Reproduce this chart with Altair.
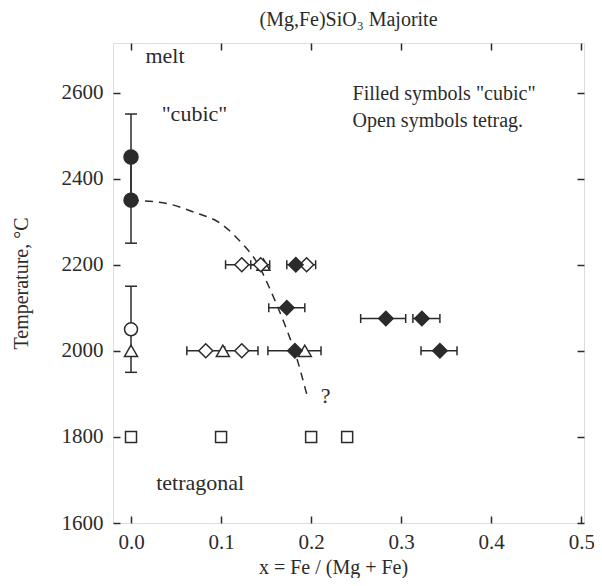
import altair as alt
import pandas as pd

# ---- data ----
# filled circles ("cubic"), x = 0
fc_x = [0.0, 0.0]
fc_T = [2450, 2350]
# open circle
oc_x = [0.0]
oc_T = [2050]
# open triangles
ot_x = [0.0, 0.102, 0.193, 0.147]
ot_T = [2000, 2000, 2000, 2200]
# filled diamonds ("cubic")
fd_x = [0.183, 0.173, 0.283, 0.323, 0.182, 0.343]
fd_T = [2200, 2100, 2075, 2075, 2000, 2000]
# open diamonds (tetragonal)
od_x = [0.123, 0.144, 0.195, 0.083, 0.123]
od_T = [2200, 2200, 2200, 2000, 2000]
# open squares
os_x = [0.0, 0.10, 0.20, 0.24]
os_T = [1800, 1800, 1800, 1800]

# horizontal error bars (composition uncertainty)
h_T = [2200, 2200, 2200, 2200, 2100, 2075, 2075, 2000, 2000, 2000, 2000]
h_lo = [0.105, 0.133, 0.173, 0.185, 0.153, 0.255, 0.313, 0.062, 0.102, 0.152, 0.322]
h_hi = [0.141, 0.154, 0.193, 0.205, 0.193, 0.305, 0.343, 0.104, 0.141, 0.211, 0.362]

# vertical error bars (temperature uncertainty) at x = 0
v_x = [0.0, 0.0, 0.0]
v_lo = [2350, 2250, 1950]
v_hi = [2550, 2450, 2150]

# dashed phase boundary
c_x = [0.0, 0.04, 0.07, 0.10, 0.123, 0.14, 0.155, 0.17, 0.183, 0.195]
c_T = [2350, 2342, 2322, 2295, 2250, 2205, 2140, 2065, 1990, 1900]

# annotations
ann_text = ["melt", '"cubic"', 'Filled symbols "cubic"', "Open symbols tetrag.", "tetragonal"]
ann_x = [0.016, 0.034, 0.246, 0.246, 0.028]
ann_T = [2684, 2549, 2597, 2533, 1692]
ann_size = [22, 22, 20, 20, 22]
q_text = ["?"]
q_x = [0.216]
q_T = [1895]

x_ticks = [0.0, 0.1, 0.2, 0.3, 0.4, 0.5]
y_ticks = [1600, 1800, 2000, 2200, 2400, 2600]

FONT = "Liberation Serif"
INK = "#2b2b2b"

# ---- tables ----
rows = []
def add(xs, ts, shape, filled, size):
    for a, b in zip(xs, ts):
        rows.append({"x": a, "T": b, "shape": shape,
                     "fill": INK if filled else "white", "size": size})

add(fc_x, fc_T, "circle", True, 196)
add(oc_x, oc_T, "circle", False, 169)
add(ot_x, ot_T, "triangle-up", False, 169)
add(od_x, od_T, "diamond", False, 196)
add(fd_x, fd_T, "diamond", True, 210)
add(os_x, os_T, "square", False, 121)
pts = pd.DataFrame(rows)

hbar = pd.DataFrame({"T": h_T, "lo": h_lo, "hi": h_hi})
hcap = pd.DataFrame({"T": h_T + h_T, "x": h_lo + h_hi})
vbar = pd.DataFrame({"x": v_x, "lo": v_lo, "hi": v_hi})
vcap = pd.DataFrame({"x": v_x + v_x, "T": v_lo + v_hi})
curve = pd.DataFrame({"x": c_x, "T": c_T})
ann = pd.DataFrame({"x": ann_x, "T": ann_T, "t": ann_text, "fs": ann_size})
qdf = pd.DataFrame({"x": q_x, "T": q_T, "t": q_text})

xs = alt.Scale(domain=[-0.02, 0.503], nice=False, zero=False)
ys = alt.Scale(domain=[1600, 2715], nice=False, zero=False)

common_axis = dict(offset=-7, tickSize=7, domain=False, grid=False,
                   tickColor=INK, tickWidth=1.5, labelColor=INK, labelFont=FONT,
                   labelFontSize=21, titleFont=FONT, titleFontSize=20,
                   titleFontWeight="normal", titleColor=INK)

x_bottom = alt.Axis(orient="bottom", values=x_ticks, format=".1f",
                    title="x = Fe / (Mg + Fe)", labelPadding=8, titlePadding=5,
                    titleX=220, **common_axis)
y_left = alt.Axis(orient="left", values=y_ticks, format="d",
                  title="Temperature, °C", labelPadding=10, titlePadding=30,
                  **common_axis)
x_top = alt.Axis(orient="top", values=x_ticks, labels=False, title=None,
                 **common_axis)
y_right = alt.Axis(orient="right", values=y_ticks, labels=False, title=None,
                   **common_axis)

def X(field, axis=None):
    return alt.X(field, type="quantitative", scale=xs, axis=axis)

def Y(field, axis=None):
    return alt.Y(field, type="quantitative", scale=ys, axis=axis)

frame_axes = alt.Chart(pts).mark_point(opacity=0).encode(
    x=X("x", x_bottom), y=Y("T", y_left))
mirror_axes = alt.Chart(pts).mark_point(opacity=0).encode(
    x=X("x", x_top), y=Y("T", y_right))

hrule = alt.Chart(hbar).mark_rule(color=INK, strokeWidth=1.5).encode(
    x=X("lo"), x2="hi", y=Y("T"))
hcaps = alt.Chart(hcap).mark_tick(orient="vertical", size=9, thickness=1.5,
                                  color=INK, opacity=1).encode(x=X("x"), y=Y("T"))
vrule = alt.Chart(vbar).mark_rule(color=INK, strokeWidth=1.5).encode(
    x=X("x"), y=Y("lo"), y2="hi")
vcaps = alt.Chart(vcap).mark_tick(orient="horizontal", size=12, thickness=1.5,
                                  color=INK, opacity=1).encode(x=X("x"), y=Y("T"))

line = alt.Chart(curve).mark_line(color=INK, strokeWidth=1.5, strokeDash=[8, 6],
                                  interpolate="monotone").encode(
    x=X("x"), y=Y("T"), order="x:Q")

points = alt.Chart(pts).mark_point(opacity=1, strokeWidth=1.5, stroke=INK,
                                   fillOpacity=1).encode(
    x=X("x"), y=Y("T"),
    shape=alt.Shape("shape:N", scale=None),
    fill=alt.Fill("fill:N", scale=None),
    size=alt.Size("size:Q", scale=None))

labels = alt.Chart(ann).mark_text(align="left", baseline="middle", font=FONT,
                                  color=INK).encode(
    x=X("x"), y=Y("T"), text="t:N", size=alt.Size("fs:Q", scale=None))
qmark = alt.Chart(qdf).mark_text(align="center", baseline="middle", font=FONT,
                                 fontSize=22, color=INK).encode(
    x=X("x"), y=Y("T"), text="t:N")

chart = alt.layer(
    frame_axes, mirror_axes, hrule, hcaps, vrule, vcaps, line, points, labels, qmark
).resolve_axis(x="independent", y="independent").properties(
    width=471, height=480,
    title=alt.TitleParams("(Mg,Fe)SiO₃ Majorite", font=FONT, fontSize=20,
                          fontWeight="normal", color=INK, anchor="middle", offset=12),
    autosize=alt.AutoSizeParams(type="none"),
    padding={"left": 105, "top": 35, "right": 10, "bottom": 55},
).configure_view(stroke=INK, strokeWidth=1.5).configure_axis(
    labelFont=FONT, titleFont=FONT
).configure(background="white", font=FONT)

chart.save("out.html", embed_options={"renderer": "svg", "actions": False})
